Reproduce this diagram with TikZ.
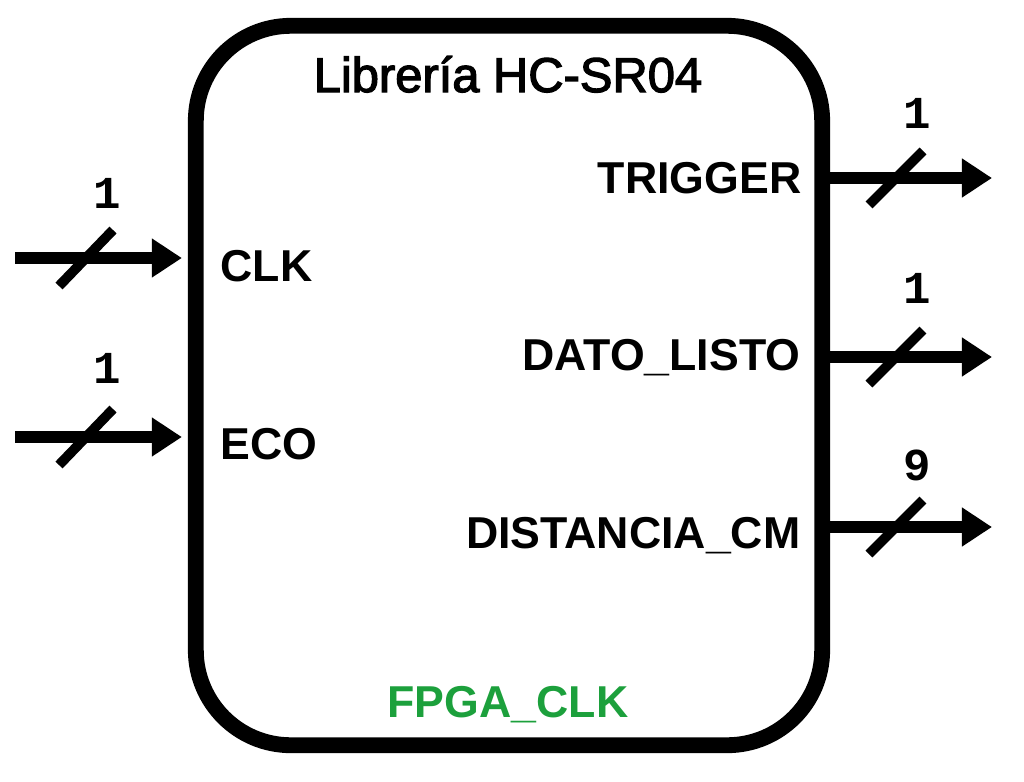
\documentclass[tikz,border=0pt]{standalone}
\usepackage{fontspec}
\setmainfont{Liberation Sans}
\newfontfamily\widthfont{Liberation Mono}
\newfontfamily\titlefont[FakeBold=2.5]{Liberation Sans}
\usetikzlibrary{calc,arrows.meta}
\definecolor{fpgagreen}{RGB}{28,160,60}

\begin{document}
\begin{tikzpicture}[x=0.01cm, y=-0.01cm,
        bus/.style={line width=3.4pt, -{Triangle[length=0.3cm,width=0.37cm]}},
        busbar/.style={line width=2.8pt},
        port/.style={font=\fontsize{12.7}{14}\selectfont\bfseries, inner sep=0pt},
        buswidth/.style={font=\fontsize{13}{14}\selectfont\widthfont\bfseries, inner sep=0pt, anchor=base}]
    \useasboundingbox (0,0) rectangle (1024,781);

    \node[draw, line width=4.5pt, rounded corners=0.95cm, minimum width=6.26cm, minimum height=7.19cm] (lib) at (509,385.5) {};
    \node[font=\fontsize{13.9}{15}\selectfont\titlefont, inner sep=0pt, anchor=base] (title) at (508,92) {Librería HC-SR04};
    \node[port, anchor=base, text=fpgagreen] (fpgaclk) at (508,717) {FPGA\_CLK};

    \coordinate (clkin) at (15,258);
    \coordinate (ecoin) at (15,437);
    \coordinate (trigout) at (992,178);
    \coordinate (datoout) at (992,357);
    \coordinate (distout) at (992,527);

    \node[port, anchor=base west] (clk) at (220,281) {CLK};
    \node[port, anchor=base west] (eco) at (220,459) {ECO};
    \node[port, anchor=base east] (trig) at (802,193) {TRIGGER};
    \node[port, anchor=base east] (dato) at (801,370) {DATO\_LISTO};
    \node[port, anchor=base east] (dist) at (801,548) {DISTANCIA\_CM};

    \draw[bus, shorten >=0.06cm] (clkin) -- (clkin -| lib.west);
    \draw[bus, shorten >=0.06cm] (ecoin) -- (ecoin -| lib.west);
    \draw[bus] (trigout -| lib.east) -- (trigout);
    \draw[bus] (datoout -| lib.east) -- (datoout);
    \draw[bus] (distout -| lib.east) -- (distout);

    \coordinate (clkbar) at ($(clkin) + (71, 0)$);
    \coordinate (ecobar) at ($(ecoin) + (71, 0)$);
    \coordinate (trigbar) at ($(trigout) + (-96, 0)$);
    \coordinate (datobar) at ($(datoout) + (-96, 0)$);
    \coordinate (distbar) at ($(distout) + (-96, 0)$);

    \draw[busbar] ($(clkbar) + (-27, 28)$) -- ($(clkbar) + (27, -28)$);
    \draw[busbar] ($(ecobar) + (-27, 28)$) -- ($(ecobar) + (27, -28)$);
    \draw[busbar] ($(trigbar) + (-27, 27)$) -- ($(trigbar) + (27, -27)$);
    \draw[busbar] ($(datobar) + (-27, 27)$) -- ($(datobar) + (27, -27)$);
    \draw[busbar] ($(distbar) + (-27, 27)$) -- ($(distbar) + (27, -27)$);

    \node[buswidth] (clkw) at ($(clkbar) + (21, -50)$) {1};
    \node[buswidth] (ecow) at ($(ecobar) + (21, -54)$) {1};
    \node[buswidth] (trigw) at ($(trigbar) + (21, -50)$) {1};
    \node[buswidth] (datow) at ($(datobar) + (21, -54)$) {1};
    \node[buswidth] (distw) at ($(distbar) + (21, -47)$) {9};
\end{tikzpicture}
\end{document}
